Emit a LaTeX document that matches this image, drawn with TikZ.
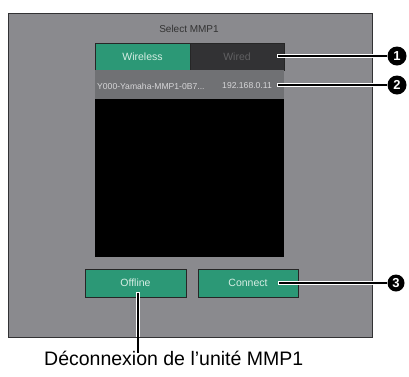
\documentclass[tikz,border=0pt]{standalone}
\usepackage{fontspec}
\setmainfont{Liberation Sans}
\definecolor{panelgray}{RGB}{138,138,142}
\definecolor{paneledge}{RGB}{50,50,52}
\definecolor{teal}{RGB}{44,152,118}
\definecolor{wiredbg}{RGB}{50,50,52}
\definecolor{wiredtxt}{RGB}{96,96,98}
\definecolor{rowbg}{RGB}{112,113,116}
\definecolor{rowtxt}{RGB}{214,214,216}
\definecolor{btntxt}{RGB}{214,238,228}
\tikzset{
  box/.style={anchor=north west, inner sep=0pt, outer sep=0pt},
  greenbtn/.style={box, fill=teal, draw=black!85, line width=1pt,
    text=btntxt, font=\fontsize{10.5}{11}\selectfont},
  marker/.style={circle, fill=black, inner sep=0pt, minimum size=#1,
    text=white, font=\bfseries\fontsize{13}{13}\selectfont},
  leadcase/.style={line width=4.6pt, white},
  leadline/.style={line width=2.6pt, black, shorten <=0.9pt},
}
\begin{document}
\begin{tikzpicture}[x=1pt,y=-1pt]
\useasboundingbox (0,0) rectangle (409,376);

% dialog panel
\node[box, fill=panelgray, draw=paneledge, line width=1pt,
  minimum width=364pt, minimum height=324pt] (panel) at (8,13) {};
\node[text=black!80, font=\fontsize{10}{10}\selectfont] (title) at (189,29) {Select MMP1};

% connection type tabs
\node[box, fill=teal, draw=black!85, line width=0.8pt, minimum width=95pt, minimum height=27pt,
  text=btntxt, font=\fontsize{10.5}{11}\selectfont] (wireless) at (95,43) {Wireless};
\node[box, fill=wiredbg, draw=black!85, line width=0.8pt, minimum width=94pt, minimum height=27pt,
  text=wiredtxt, font=\fontsize{10.5}{11}\selectfont] (wired) at (190,43) {Wired};

% device list
\node[box, fill=rowbg, minimum width=189pt, minimum height=29pt] (row) at (95,70) {};
\node[anchor=west, inner sep=0pt, text=rowtxt, font=\fontsize{8.6}{9}\selectfont] (devname) at (97,86) {Y000-Yamaha-MMP1-0B7...};
\node[anchor=east, inner sep=0pt, text=rowtxt, font=\fontsize{8.6}{9}\selectfont] (devip) at (272,86) {192.168.0.11};
\node[box, fill=black, minimum width=189pt, minimum height=158pt] (list) at (95,99) {};

% buttons
\node[greenbtn, minimum width=101pt, minimum height=28pt] (offline) at (85,269) {Offline};
\node[greenbtn, minimum width=100pt, minimum height=28pt] (connect) at (198,269) {Connect};

% numbered markers
\node[marker=19pt] (m1) at (397,56) {1};
\node[marker=19pt] (m2) at (397,85) {2};
\node[marker=17pt] (m3) at (396,283) {3};

% leader lines
\coordinate (s1) at (277,56);
\coordinate (s2) at (277,85);
\coordinate (s3) at (278,283);
\coordinate (s4) at (138,292);
\coordinate (e4) at (138,353);
\foreach \a/\b in {s1/m1, s2/m2, s3/m3}{
  \draw[leadcase] (\a) -- ([xshift=-20pt]\b.center);
  \draw[leadline] (\a) -- (\b);
}
\draw[leadcase] (s4) -- (panel.south -| s4);
\draw[leadline] (s4) -- (e4);

% caption
\node[anchor=base west, inner sep=0pt, font=\fontsize{19.5}{20}\selectfont] (caption) at (44,365) {Déconnexion de l'unité MMP1};
\end{tikzpicture}
\end{document}
